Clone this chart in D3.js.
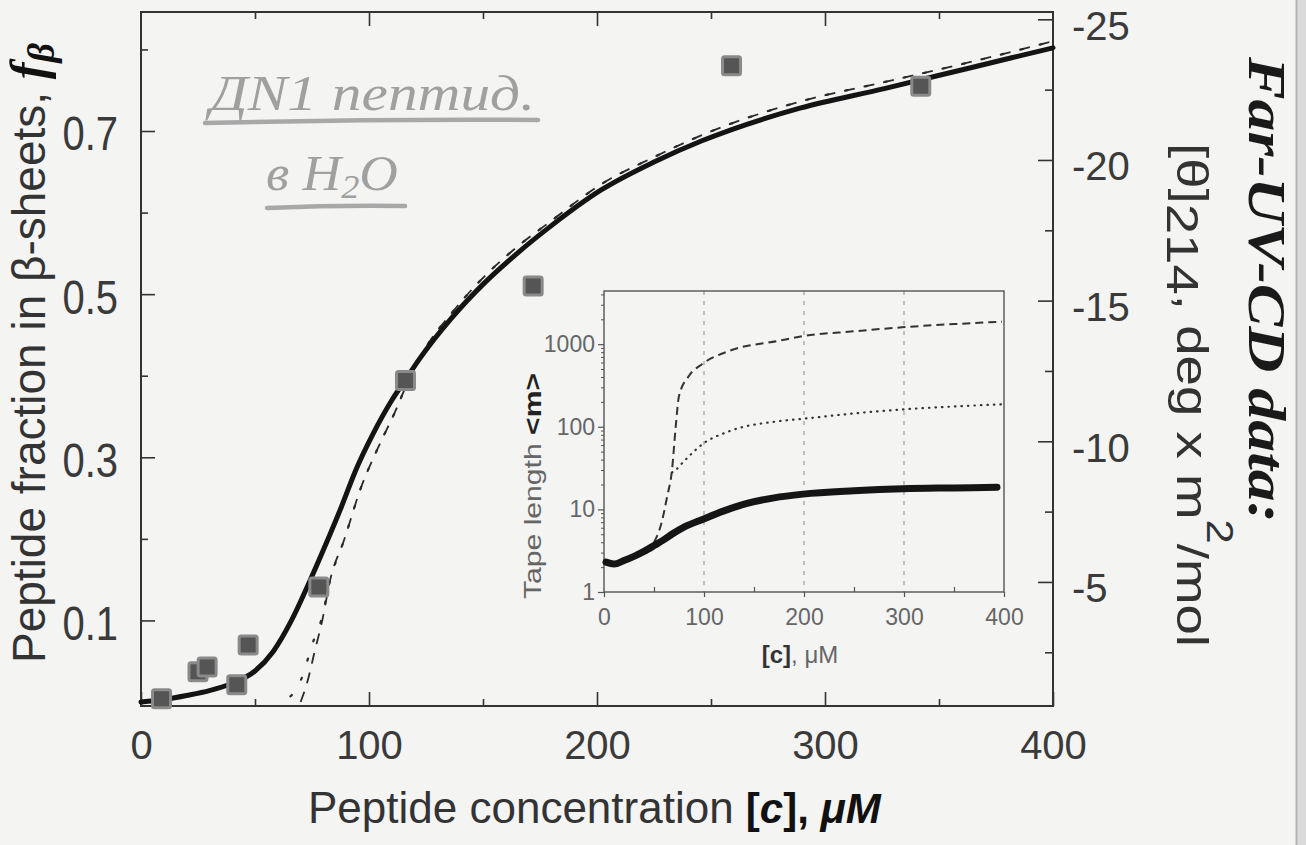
<!DOCTYPE html>
<html>
<head>
<meta charset="utf-8">
<script src="https://cdn.jsdelivr.net/npm/d3@7"></script>
<style>
  body { margin: 0; background: #f3f3f1; }
  svg { display: block; }
</style>
</head>
<body>
<svg></svg>
<script>
// CD data points: concentration (uM) and fraction in beta-sheets
const cdConc = [9, 25, 29, 42, 47, 78, 116, 172, 259, 342];
const cdFrac = [0.004, 0.037, 0.043, 0.021, 0.07, 0.141, 0.394, 0.51, 0.78, 0.755];

// main panel, solid fit
const fitConc = [0, 10, 20, 30, 40, 50, 58, 66, 74, 81, 88, 94, 102, 110, 116, 122, 136, 150, 165, 180, 202, 225, 246, 289, 326, 363, 400];
const fitFrac = [0, 0.003, 0.008, 0.014, 0.023, 0.038, 0.062, 0.1, 0.148, 0.193, 0.24, 0.283, 0.33, 0.37, 0.395, 0.42, 0.47, 0.512, 0.55, 0.584, 0.628, 0.662, 0.688, 0.728, 0.752, 0.777, 0.802];

// main panel, thin dashed and dotted curves
const dashConc = [70, 73, 76, 79.5, 83, 89, 96.5, 104, 111, 117, 125, 136, 150, 165, 180, 202, 225, 246, 289, 326, 363, 400];
const dashFrac = [0, 0.025, 0.06, 0.1, 0.15, 0.198, 0.263, 0.312, 0.353, 0.392, 0.435, 0.476, 0.52, 0.558, 0.59, 0.635, 0.668, 0.695, 0.736, 0.76, 0.784, 0.81];
const dotConc = [60, 64, 66.6, 71, 75, 79, 83, 89, 96.5, 104, 111, 117, 125, 136, 150, 165, 180, 202, 225, 246, 289, 326, 363, 400];
const dotFrac = [0, 0.004, 0.01, 0.033, 0.07, 0.1, 0.15, 0.198, 0.263, 0.312, 0.353, 0.392, 0.435, 0.476, 0.52, 0.558, 0.59, 0.635, 0.668, 0.695, 0.736, 0.76, 0.784, 0.81];

// inset: tape length <m>
const tapeConc = [2, 10, 20, 30, 40, 51, 60, 69, 80, 99, 120, 143, 170, 199, 250, 299, 350, 393];
const tapeSolid = [2.3, 2.18, 2.4, 2.7, 3.1, 3.7, 4.3, 5.1, 6.1, 7.6, 9.6, 11.8, 13.8, 15.3, 16.8, 17.8, 18.2, 18.5];
const tapeDashConc = [50, 57, 63, 68, 71.7, 75, 85, 98, 125, 175, 199, 250, 298, 350, 398];
const tapeDash = [4, 6.5, 14, 30, 100, 236, 413, 572, 826, 1100, 1250, 1430, 1600, 1750, 1870];
const tapeDotConc = [68, 72, 75, 85, 98, 125, 175, 199, 250, 298, 350, 398];
const tapeDot = [28, 30, 33, 44, 61, 88, 117, 125, 145, 162, 176, 187];

// tick values
const xTicks = [0, 100, 200, 300, 400];
const xMinor = [50, 150, 250, 350];
const yTicks = [0.1, 0.3, 0.5, 0.7];
const yMinor = [0.2, 0.4, 0.6, 0.8];
const rTicks = [-25, -20, -15, -10, -5];
const rMinor = [-22.5, -17.5, -12.5, -7.5, -2.5];
const insetYTicks = [1, 10, 100, 1000];

const W = 1306, H = 845;
const sans = "'Liberation Sans', Arial, sans-serif";
const serif = "'Liberation Serif', 'DejaVu Serif', serif";
const ink = '#333';

const svg = d3.select('svg').attr('width', W).attr('height', H);
svg.append('rect').attr('width', W).attr('height', H).attr('fill', '#f4f4f3');
// edge of the scanned page
svg.append('rect').attr('x', 1296).attr('y', 0).attr('width', 10).attr('height', H).attr('fill', '#dadada');
svg.append('line').attr('x1', 1296.5).attr('x2', 1296.5).attr('y1', 0).attr('y2', H)
  .attr('stroke', '#b5b5b5').attr('stroke-width', 2);

// main frame
const pL = 141, pR = 1053, pT = 12, pB = 706;
const x = d3.scaleLinear().domain([0, 400]).range([pL, pR]);
const y = d3.scaleLinear().domain([-0.0049, 0.8459]).range([pB, pT]);
const yR = d3.scaleLinear().domain([-0.59, -25.26]).range([pB, pT]);

function tidy(g, size, color) {
  g.select('.domain').remove();
  g.attr('font-size', size).attr('font-family', sans).style('color', color);
  g.selectAll('.tick line').attr('stroke', ink).attr('stroke-width', 1.6);
  return g;
}

// left axis
const gL = svg.append('g').attr('transform', `translate(${pL},0)`)
  .call(d3.axisLeft(y).tickValues(yTicks).tickSizeInner(-14).tickSizeOuter(0)
    .tickPadding(23).tickFormat(d3.format('.1f')));
tidy(gL, 40, '#3a3a3a');
gL.selectAll('text').attr('dy', '0.4em').attr('transform', 'scale(1,1.18)');
tidy(svg.append('g').attr('transform', `translate(${pL},0)`)
  .call(d3.axisLeft(y).tickValues(yMinor).tickSize(-7).tickFormat('')), 10, ink);

// right axis
const gR = svg.append('g').attr('transform', `translate(${pR},0)`)
  .call(d3.axisRight(yR).tickValues(rTicks).tickSizeInner(-15).tickSizeOuter(0)
    .tickPadding(19).tickFormat(d => String(d)));
tidy(gR, 40, '#3a3a3a');
gR.selectAll('text').attr('dy', '0.5em');
tidy(svg.append('g').attr('transform', `translate(${pR},0)`)
  .call(d3.axisRight(yR).tickValues(rMinor).tickSize(-8).tickFormat('')), 10, ink);

// bottom axis
const gB = svg.append('g').attr('transform', `translate(0,${pB})`)
  .call(d3.axisBottom(x).tickValues(xTicks).tickSizeInner(-14).tickSizeOuter(0).tickPadding(25));
tidy(gB, 40, '#3a3a3a');
tidy(svg.append('g').attr('transform', `translate(0,${pB})`)
  .call(d3.axisBottom(x).tickValues(xMinor).tickSize(-7).tickFormat('')), 10, ink);

// top axis, ticks only
tidy(svg.append('g').attr('transform', `translate(0,${pT})`)
  .call(d3.axisTop(x).tickValues([100, 200, 300]).tickSize(-14).tickFormat('')), 10, ink);
tidy(svg.append('g').attr('transform', `translate(0,${pT})`)
  .call(d3.axisTop(x).tickValues(xMinor).tickSize(-7).tickFormat('')), 10, ink);

svg.append('rect').attr('x', pL).attr('y', pT).attr('width', pR - pL).attr('height', pB - pT)
  .attr('fill', 'none').attr('stroke', ink).attr('stroke-width', 2);

// curves of the main panel
const line = d3.line().x(d => x(d[0])).y(d => y(d[1])).curve(d3.curveMonotoneX);
svg.append('path').datum(d3.zip(dashConc, dashFrac)).attr('d', line)
  .attr('fill', 'none').attr('stroke', '#2a2a2a').attr('stroke-width', 1.8).attr('stroke-dasharray', '11,9');
svg.append('path').datum(d3.zip(dotConc, dotFrac)).attr('d', line)
  .attr('fill', 'none').attr('stroke', '#2a2a2a').attr('stroke-width', 2.2)
  .attr('stroke-dasharray', '2,18').attr('stroke-dashoffset', -14).attr('stroke-linecap', 'round');
svg.append('path').datum(d3.zip(fitConc, fitFrac)).attr('d', line)
  .attr('fill', 'none').attr('stroke', '#141414').attr('stroke-width', 5).attr('stroke-linecap', 'round');

// CD squares
svg.append('g').selectAll('rect').data(d3.zip(cdConc, cdFrac)).join('rect')
  .attr('x', d => x(d[0]) - 9).attr('y', d => y(d[1]) - 9)
  .attr('width', 18).attr('height', 18).attr('rx', 2)
  .attr('fill', '#555').attr('stroke', '#8a8a8a').attr('stroke-width', 3);

// axis titles
const tL = svg.append('text').attr('transform', 'translate(45,663) rotate(-90)')
  .attr('font-family', sans).attr('font-size', 46).attr('fill', ink);
tL.append('tspan').text('Peptide fraction in β-sheets, ');
tL.append('tspan').attr('font-family', serif).attr('font-weight', 'bold').attr('font-style', 'italic')
  .attr('font-size', 50).attr('fill', '#111').text('f');
tL.append('tspan').attr('font-family', serif).attr('font-weight', 'bold').attr('font-style', 'italic')
  .attr('font-size', 38).attr('dy', 9).attr('fill', '#111').text('β');

const tB = svg.append('text').attr('x', 308).attr('y', 823)
  .attr('font-family', sans).attr('font-size', 44).attr('fill', ink);
tB.append('tspan').text('Peptide concentration ');
tB.append('tspan').attr('font-weight', 'bold').attr('font-size', 42).attr('fill', '#111').text('[');
tB.append('tspan').attr('font-weight', 'bold').attr('font-style', 'italic').attr('font-size', 42).attr('fill', '#111').text('c');
tB.append('tspan').attr('font-weight', 'bold').attr('font-size', 42).attr('fill', '#111').text('], ');
tB.append('tspan').attr('font-weight', 'bold').attr('font-style', 'italic').attr('font-size', 42).attr('fill', '#111').text('μM');

const tR = svg.append('text').attr('transform', 'translate(1177,143) rotate(90)')
  .attr('font-family', sans).attr('font-size', 45).attr('fill', ink)
  .attr('textLength', 504).attr('lengthAdjust', 'spacingAndGlyphs');
tR.append('tspan').text('[θ]');
tR.append('tspan').attr('dy', 10).text('214');
tR.append('tspan').attr('dy', -10).text(', deg x m');
tR.append('tspan').attr('dy', -30).attr('font-size', 36).text('2');
tR.append('tspan').attr('dy', 30).text('/mol');

// handwritten notes
svg.append('text').attr('transform', 'translate(1249,57) rotate(90)')
  .attr('font-family', serif).attr('font-style', 'italic').attr('font-weight', 'bold')
  .attr('font-size', 52).attr('fill', '#1a1a1a')
  .attr('textLength', 466).attr('lengthAdjust', 'spacingAndGlyphs')
  .text('Far-UV-CD data:');

const hand = '#a0a0a0';
svg.append('text').attr('x', 210).attr('y', 110)
  .attr('font-family', serif).attr('font-style', 'italic').attr('font-size', 50).attr('fill', hand)
  .attr('textLength', 325).attr('lengthAdjust', 'spacingAndGlyphs')
  .text('ДN1 пептид.');
svg.append('path').attr('d', 'M205,123 Q370,119 538,120')
  .attr('fill', 'none').attr('stroke', '#a8a8a8').attr('stroke-width', 4.5).attr('stroke-linecap', 'round');
const h2 = svg.append('text').attr('x', 266).attr('y', 190)
  .attr('font-family', serif).attr('font-style', 'italic').attr('font-size', 50).attr('fill', hand)
  .attr('textLength', 132).attr('lengthAdjust', 'spacingAndGlyphs');
h2.append('tspan').text('в H');
h2.append('tspan').attr('font-size', 34).attr('dy', 8).text('2');
h2.append('tspan').attr('dy', -8).text('O');
svg.append('path').attr('d', 'M267,208 Q336,205 405,206')
  .attr('fill', 'none').attr('stroke', '#a8a8a8').attr('stroke-width', 4.5).attr('stroke-linecap', 'round');

// ---- inset ----
const iL = 604, iR = 1004, iT = 291, iB = 592;
const xi = d3.scaleLinear().domain([0, 400]).range([iL, iR]);
const yi = d3.scaleLog().domain([1, 4400]).range([iB, iT]);
const grey = '#666';

xTicks.slice(1, 4).forEach(c => {
  svg.append('line').attr('x1', xi(c)).attr('x2', xi(c)).attr('y1', iT).attr('y2', iB)
    .attr('stroke', '#8a8a8a').attr('stroke-width', 1).attr('stroke-dasharray', '4,6');
});

const gIB = svg.append('g').attr('transform', `translate(0,${iB})`)
  .call(d3.axisBottom(xi).tickValues(xTicks).tickSizeInner(5).tickSizeOuter(0).tickPadding(12));
tidy(gIB, 23, grey);
gIB.selectAll('.tick line').attr('stroke', '#555').attr('stroke-width', 1.2);
const gIBm = svg.append('g').attr('transform', `translate(0,${iB})`)
  .call(d3.axisBottom(xi).tickValues(xMinor).tickSize(-5).tickFormat(''));
tidy(gIBm, 10, grey).selectAll('.tick line').attr('stroke', '#555').attr('stroke-width', 1.2);

const gIL = svg.append('g').attr('transform', `translate(${iL},0)`)
  .call(d3.axisLeft(yi).tickValues(insetYTicks).tickSizeInner(6).tickSizeOuter(0).tickPadding(3)
    .tickFormat(d3.format('d')));
tidy(gIL, 23, grey);
gIL.selectAll('.tick line').attr('stroke', '#555').attr('stroke-width', 1.2);
const gILm = svg.append('g').attr('transform', `translate(${iL},0)`)
  .call(d3.axisLeft(yi).tickValues(yi.ticks().filter(v => !insetYTicks.includes(v))).tickSize(3).tickFormat(''));
tidy(gILm, 10, grey).selectAll('.tick line').attr('stroke', '#555').attr('stroke-width', 1);

svg.append('rect').attr('x', iL).attr('y', iT).attr('width', iR - iL).attr('height', iB - iT)
  .attr('fill', 'none').attr('stroke', '#555').attr('stroke-width', 1.4);

const lineI = d3.line().x(d => xi(d[0])).y(d => yi(d[1])).curve(d3.curveMonotoneX);
svg.append('path').datum(d3.zip(tapeDashConc, tapeDash)).attr('d', lineI)
  .attr('fill', 'none').attr('stroke', '#333').attr('stroke-width', 2).attr('stroke-dasharray', '8,5');
svg.append('path').datum(d3.zip(tapeDotConc, tapeDot)).attr('d', lineI)
  .attr('fill', 'none').attr('stroke', '#333').attr('stroke-width', 2.2)
  .attr('stroke-dasharray', '0.5,6').attr('stroke-linecap', 'round');
svg.append('path').datum(d3.zip(tapeConc, tapeSolid)).attr('d', lineI)
  .attr('fill', 'none').attr('stroke', '#151515').attr('stroke-width', 7).attr('stroke-linecap', 'round');

const tIY = svg.append('text').attr('transform', 'translate(541,486) rotate(-90)')
  .attr('text-anchor', 'middle').attr('font-family', sans).attr('font-size', 24).attr('fill', grey)
  .attr('textLength', 226).attr('lengthAdjust', 'spacingAndGlyphs');
tIY.append('tspan').text('Tape length ');
tIY.append('tspan').attr('font-weight', 'bold').attr('fill', '#222').text('<m>');

const tIX = svg.append('text').attr('x', 800).attr('y', 663).attr('text-anchor', 'middle')
  .attr('font-family', sans).attr('font-size', 24).attr('fill', grey);
tIX.append('tspan').attr('font-weight', 'bold').attr('fill', '#333').text('[c]');
tIX.append('tspan').text(', μM');
</script>
</body>
</html>
